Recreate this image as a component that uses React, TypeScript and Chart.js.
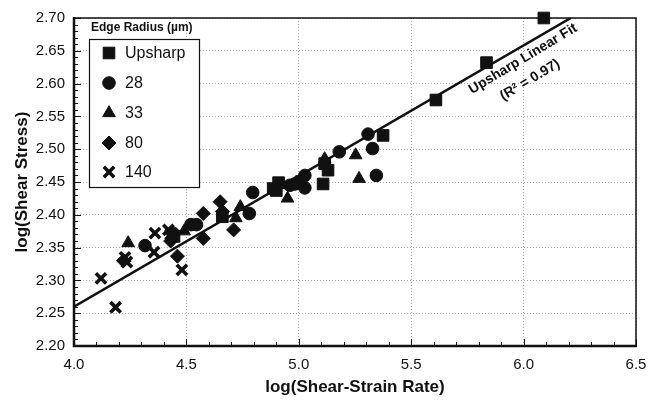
import React, { useEffect, useRef } from "react";
import { Chart, registerables } from "chart.js";
import { drawPoint } from "chart.js/helpers";

Chart.register(...registerables);

// ---- Data ----
const upsharpX = [6.09, 5.835, 5.61, 5.375, 5.13, 5.115, 5.108, 4.91, 4.886, 4.9, 4.66, 4.445];
const upsharpY = [2.7, 2.632, 2.575, 2.521, 2.468, 2.478, 2.447, 2.449, 2.44, 2.437, 2.397, 2.367];

const r28X = [4.316, 4.52, 4.545, 4.78, 4.795, 4.96, 4.982, 5.027, 5.027, 5.18, 5.308, 5.328, 5.345, 4.44];
const r28Y = [2.353, 2.385, 2.385, 2.402, 2.434, 2.445, 2.447, 2.46, 2.441, 2.496, 2.523, 2.501, 2.46, 2.372];

const r33X = [4.241, 4.49, 4.74, 4.72, 4.95, 5.115, 5.253, 5.268];
const r33Y = [2.357, 2.375, 2.412, 2.395, 2.425, 2.485, 2.491, 2.455];

const r80X = [4.46, 4.575, 4.575, 4.65, 4.66, 4.71, 4.99, 4.43, 4.22];
const r80Y = [2.337, 2.402, 2.364, 2.42, 2.405, 2.377, 2.45, 2.36, 2.33];

const r140X = [4.12, 4.185, 4.227, 4.235, 4.36, 4.356, 4.42, 4.48, 4.43];
const r140Y = [2.303, 2.259, 2.335, 2.328, 2.372, 2.343, 2.377, 2.316, 2.37];

const fitX = [4.0, 6.21];
const fitY = [2.26, 2.7];

const legendTitle = "Edge Radius (µm)";
const seriesNames = ["Upsharp", "28", "33", "80", "140"];
const fitLabel1 = "Upsharp Linear Fit";
const fitLabel2 = "(R² = 0.97)";

const xMin = 4.0, xMax = 6.5, xStep = 0.5;
const yMin = 2.2, yMax = 2.7, yStep = 0.05;

const FONT = "'Liberation Sans', Arial, Helvetica, sans-serif";
const INK = "#111";

const styles = [
  { pointStyle: "rect", radius: 8.2, borderWidth: 1 },
  { pointStyle: "circle", radius: 6.3, borderWidth: 1 },
  { pointStyle: "triangle", radius: 7.3, borderWidth: 1 },
  { pointStyle: "rectRot", radius: 7, borderWidth: 1 },
  { pointStyle: "crossRot", radius: 7.3, borderWidth: 3.6 },
];

const zip = (xs: number[], ys: number[]) => xs.map((x, i) => ({ x, y: ys[i] }));

const framePlugin = {
  id: "frame",
  afterDatasetsDraw(chart: any) {
    const { ctx, chartArea: a, scales } = chart;
    const xs = scales.x, ys = scales.y;
    ctx.save();
    ctx.strokeStyle = INK;
    ctx.lineWidth = 1;
    for (let i = 0; i <= 50; i++) {
      const v = yMin + i * 0.01;
      const py = Math.round(ys.getPixelForValue(v)) + 0.5;
      const len = i % 5 === 0 ? 7 : 4;
      ctx.beginPath();
      ctx.moveTo(a.left, py);
      ctx.lineTo(a.left + len, py);
      ctx.stroke();
    }
    for (let i = 0; i <= 25; i++) {
      const v = xMin + i * 0.1;
      const px = Math.round(xs.getPixelForValue(v)) + 0.5;
      const len = i % 5 === 0 ? 7 : 4;
      ctx.beginPath();
      ctx.moveTo(px, a.bottom);
      ctx.lineTo(px, a.bottom - len);
      ctx.stroke();
    }
    ctx.lineWidth = 1.5;
    ctx.beginPath();
    ctx.moveTo(a.left, a.top);
    ctx.lineTo(a.right, a.top);
    ctx.lineTo(a.right, a.bottom);
    ctx.stroke();
    ctx.lineWidth = 2.5;
    ctx.beginPath();
    ctx.moveTo(a.left, a.top - 1);
    ctx.lineTo(a.left, a.bottom);
    ctx.lineTo(a.right + 1, a.bottom);
    ctx.stroke();

    // legend
    const bx = 89, by = 39, bw = 110, bh = 148;
    ctx.fillStyle = "#fff";
    ctx.fillRect(bx, by, bw, bh);
    ctx.lineWidth = 1.2;
    ctx.strokeRect(bx + 0.5, by + 0.5, bw, bh);
    ctx.fillStyle = INK;
    ctx.font = `bold 12px ${FONT}`;
    ctx.textBaseline = "middle";
    ctx.textAlign = "left";
    ctx.fillText(legendTitle, 91, 28);
    const rows = [53, 83, 113, 143, 172];
    ctx.font = `16px ${FONT}`;
    seriesNames.forEach((name, i) => {
      ctx.fillStyle = INK;
      ctx.strokeStyle = INK;
      ctx.lineWidth = styles[i].borderWidth;
      drawPoint(ctx, { ...styles[i], rotation: 0 } as any, 109, rows[i]);
      ctx.fillStyle = INK;
      ctx.fillText(name, 125, rows[i] + 1);
    });

    // fit annotation
    ctx.font = `bold 14px ${FONT}`;
    ctx.textAlign = "center";
    ctx.fillStyle = INK;
    ctx.save();
    ctx.translate(523, 59);
    ctx.rotate((-31 * Math.PI) / 180);
    ctx.fillText(fitLabel1, 0, 0);
    ctx.restore();
    ctx.save();
    ctx.translate(530, 80);
    ctx.rotate((-31 * Math.PI) / 180);
    ctx.fillText(fitLabel2, 0, 0);
    ctx.restore();
    ctx.restore();
  },
};

export default function App() {
  const ref = useRef<HTMLCanvasElement>(null);
  useEffect(() => {
    if (!ref.current) return;
    const sets = [
      [upsharpX, upsharpY],
      [r28X, r28Y],
      [r33X, r33Y],
      [r80X, r80Y],
      [r140X, r140Y],
    ].map(([xs, ys], i) => ({
      type: "scatter" as const,
      label: seriesNames[i],
      data: zip(xs, ys),
      pointStyle: styles[i].pointStyle,
      pointRadius: styles[i].radius,
      pointBorderWidth: styles[i].borderWidth,
      backgroundColor: INK,
      borderColor: INK,
      showLine: false,
      clip: 12,
      order: 2,
    }));
    const chart = new Chart(ref.current, {
      type: "scatter",
      data: {
        datasets: [
          ...sets,
          {
            type: "line",
            label: "fit",
            data: zip(fitX, fitY),
            borderColor: INK,
            borderWidth: 2.6,
            pointRadius: 0,
            fill: false,
            order: 1,
          } as any,
        ],
      },
      options: {
        responsive: false,
        animation: false,
        layout: { padding: { top: 14, right: 22, bottom: 0, left: 0 } },
        plugins: { legend: { display: false }, tooltip: { enabled: false } },
        scales: {
          x: {
            type: "linear",
            min: xMin,
            max: xMax,
            afterFit: (s: any) => { s.height = 58; },
            ticks: {
              stepSize: xStep,
              callback: (v: any) => Number(v).toFixed(1),
              font: { family: FONT, size: 15 },
              color: INK,
              padding: 10,
              maxRotation: 0,
            },
            grid: { color: "#a8a8a8", lineWidth: 1, drawTicks: false },
            border: { display: false, dash: [1, 2] },
            title: {
              display: true,
              text: "log(Shear-Strain Rate)",
              font: { family: FONT, size: 17, weight: "bold" },
              color: INK,
              padding: { top: 0, bottom: 6 },
            },
          },
          y: {
            type: "linear",
            min: yMin,
            max: yMax,
            afterFit: (s: any) => { s.width = 74; },
            ticks: {
              stepSize: yStep,
              callback: (v: any) => Number(v).toFixed(2),
              font: { family: FONT, size: 15 },
              color: INK,
              padding: 9,
            },
            grid: { color: "#a8a8a8", lineWidth: 1, drawTicks: false },
            border: { display: false, dash: [1, 2] },
            title: {
              display: true,
              text: "log(Shear Stress)",
              font: { family: FONT, size: 17, weight: "bold" },
              color: INK,
              padding: { top: 12, bottom: 0 },
            },
          },
        },
      },
      plugins: [framePlugin],
    } as any);
    return () => chart.destroy();
  }, []);
  return (
    <div style={{ position: "fixed", left: 0, top: 0, width: 658, height: 404, background: "#fff" }}>
      <canvas ref={ref} width={658} height={404} style={{ display: "block" }} />
    </div>
  );
}
